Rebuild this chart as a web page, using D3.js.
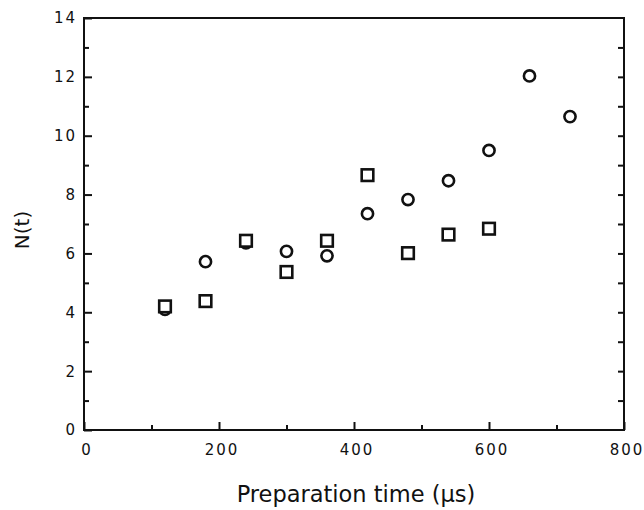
<!DOCTYPE html>
<html><head><meta charset="utf-8">
<script src="https://cdn.jsdelivr.net/npm/d3@7/dist/d3.min.js"></script>
<style>
body{margin:0;background:#fff;}
svg{display:block;}
text{font-family:"DejaVu Sans",sans-serif;fill:#111;}
</style></head>
<body>
<svg id="chart" width="644" height="510"></svg>
<script>
const circleX = [120,180,240,300,360,420,480,540,600,660,720];
const circleY = [4.1,5.72,6.36,6.07,5.92,7.35,7.83,8.47,9.5,12.03,10.65];
const squareX = [120,180,240,300,360,420,480,540,600];
const squareY = [4.2,4.38,6.43,5.37,6.43,8.66,6.01,6.64,6.84];
const xTicks = [0,200,400,600,800];
const yTicks = [0,2,4,6,8,10,12,14];

const svg = d3.select("#chart");
const L=84, R=624, T=18, B=430;
const x = d3.scaleLinear().domain([0,800]).range([L,R]);
const y = d3.scaleLinear().domain([0,14]).range([B,T]);

// ticks inward
const bottomMajor = d3.axisTop(x).tickValues(xTicks).tickSize(8).tickFormat("");
const bottomMinor = d3.axisTop(x).tickValues([100,300,500,700]).tickSize(5).tickFormat("");
const leftMajor = d3.axisRight(y).tickValues(yTicks).tickSize(8).tickFormat("");
const leftMinor = d3.axisRight(y).tickValues([1,3,5,7,9,11,13]).tickSize(5).tickFormat("");
const rightAll = d3.axisLeft(y).tickValues(d3.range(1,14)).tickSize(6).tickFormat("");

function styleAxis(g){ g.select(".domain").remove(); g.selectAll("line").attr("stroke","#111").attr("stroke-width",2); }
svg.append("g").attr("transform",`translate(0,${B})`).call(bottomMajor).call(styleAxis);
svg.append("g").attr("transform",`translate(0,${B})`).call(bottomMinor).call(styleAxis);
svg.append("g").attr("transform",`translate(${L},0)`).call(leftMajor).call(styleAxis);
svg.append("g").attr("transform",`translate(${L},0)`).call(leftMinor).call(styleAxis);
svg.append("g").attr("transform",`translate(${R},0)`).call(rightAll).call(styleAxis);

svg.append("rect").attr("x",L).attr("y",T).attr("width",R-L).attr("height",B-T)
  .attr("fill","none").attr("stroke","#111").attr("stroke-width",2);

// tick labels
svg.append("g").selectAll("text").data(xTicks).join("text")
  .attr("x",d=>x(d)+3).attr("y",B+25).attr("text-anchor","middle")
  .attr("font-size",15).attr("letter-spacing",2).attr("fill","#222").text(d=>d);
svg.append("g").selectAll("text").data(yTicks).join("text")
  .attr("x",L-7).attr("y",d=>y(d)).attr("dy","0.36em").attr("text-anchor","end")
  .attr("font-size",15).attr("letter-spacing",2).attr("fill","#222").text(d=>d);

// titles
svg.append("text").attr("x",356).attr("y",502).attr("text-anchor","middle")
  .attr("font-size",22.5).attr("font-family","Liberation Sans, sans-serif").text("Preparation time (μs)");
svg.append("text").attr("transform",`translate(29,230) rotate(-90)`).attr("text-anchor","middle")
  .attr("font-size",20).attr("font-family","Liberation Sans, sans-serif").text("N(t)");

// markers
svg.append("g").selectAll("circle").data(circleX.map((d,i)=>[d,circleY[i]])).join("circle")
  .attr("cx",d=>x(d[0])).attr("cy",d=>y(d[1])).attr("r",5.6)
  .attr("fill","#fff").attr("stroke","#111").attr("stroke-width",2.6);
svg.append("g").selectAll("rect").data(squareX.map((d,i)=>[d,squareY[i]])).join("rect")
  .attr("x",d=>x(d[0])-5.8).attr("y",d=>y(d[1])-5.8).attr("width",11.6).attr("height",11.6)
  .attr("fill","#fff").attr("stroke","#111").attr("stroke-width",2.6);
</script>
</body></html>
